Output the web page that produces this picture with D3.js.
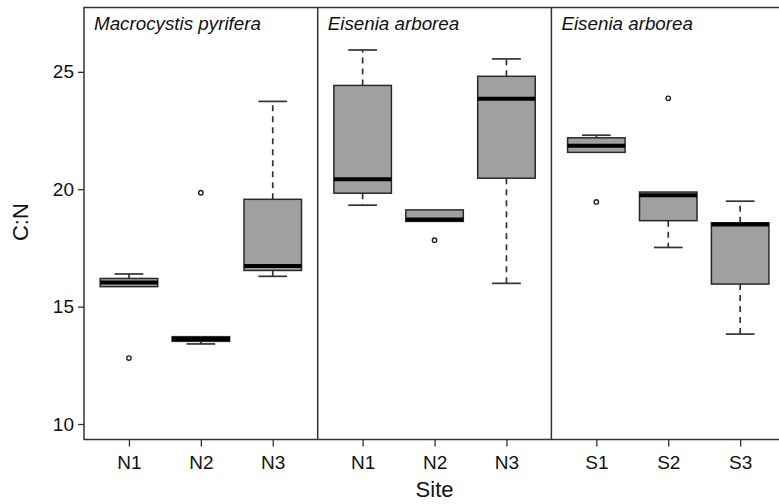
<!DOCTYPE html>
<html>
<head>
<meta charset="utf-8">
<script src="https://cdn.jsdelivr.net/npm/d3@7"></script>
<style>
body{margin:0;background:#fff;}
text{font-family:"Liberation Sans",Arial,Helvetica,sans-serif;fill:#111;}
</style>
</head>
<body>
<div id="root"></div>
<script>
// C:N by site, three panels
var panelTitles=['Macrocystis pyrifera','Eisenia arborea','Eisenia arborea'];
var siteLabels=[['N1','N2','N3'],['N1','N2','N3'],['S1','S2','S3']];
// box stats, one entry per box, panel by panel
var whiskerLow =[15.85,13.41,16.29, 19.32,18.63,15.99, 21.57,17.52,13.83];
var q1         =[15.85,13.52,16.54, 19.83,18.63,20.47, 21.57,18.66,15.96];
var medians    =[16.03,13.62,16.73, 20.43,18.71,23.85, 21.85,19.74,18.50];
var q3         =[16.20,13.72,19.57, 24.42,19.12,24.81, 22.19,19.88,18.57];
var whiskerHigh=[16.39,13.72,23.74, 25.93,19.12,25.55, 22.30,19.88,19.49];
var outliers   =[[12.81],[19.85],[], [],[17.83],[], [19.46],[23.87],[]];
var yTicks=[10,15,20,25];

var margin={t:7.5,l:84};
var W=779,H=504;
var pw=233.7, ph=432;

var svg=d3.select('#root').append('svg')
  .attr('width',W).attr('height',H)
  .append('g').attr('transform','translate('+margin.l+','+margin.t+')');

var yScale=d3.scaleLinear().domain([9.34,27.74]).range([ph,0]);
var panelScale=d3.scaleLinear().domain([0,1]).range([0,pw]);

var boxes=[];
siteLabels.forEach(function(sites,p){
  sites.forEach(function(s,j){
    var i=p*3+j;
    boxes.push({panel:p,site:s,lo:whiskerLow[i],q1:q1[i],med:medians[i],q3:q3[i],hi:whiskerHigh[i],out:outliers[i]});
  });
});

// y axis
var yAxis=d3.axisLeft(yScale).tickValues(yTicks).tickSize(6).tickPadding(4);
var gy=svg.append('g').call(yAxis);
gy.select('.domain').remove();
gy.selectAll('line').attr('stroke','#333').attr('stroke-width',1.3);
gy.selectAll('text').style('font-size','19px').attr('fill','#111');

svg.append('text').attr('transform','translate(-64,'+(yScale(18.6))+') rotate(-90)')
  .attr('text-anchor','middle').attr('dy','0.35em').style('font-size','22px').text('C:N');

panelTitles.forEach(function(title,p){
  var x0=panelScale(p);
  var g=svg.append('g').attr('transform','translate('+x0+',0)');
  var xScale=d3.scalePoint().domain(siteLabels[p]).range([0,pw]).padding(0.625);
  var bw=xScale.step()*0.8;

  var xAxis=d3.axisBottom(xScale).tickSize(7).tickPadding(9);
  var gx=g.append('g').attr('transform','translate(0,'+ph+')').call(xAxis);
  gx.select('.domain').remove();
  gx.selectAll('line').attr('stroke','#333').attr('stroke-width',1.3);
  gx.selectAll('text').style('font-size','19px').attr('fill','#111');

  g.append('text').attr('x',10).attr('y',22.5).style('font-size','18.8px')
    .style('font-style','italic').text(title);

  var bx=g.selectAll('.box').data(boxes.filter(function(d){return d.panel==p})).enter()
    .append('g').attr('class','box');

  // whiskers
  bx.append('line').attr('x1',function(d){return xScale(d.site)}).attr('x2',function(d){return xScale(d.site)})
    .attr('y1',function(d){return yScale(d.q3)}).attr('y2',function(d){return yScale(d.hi)})
    .attr('stroke','#333').attr('stroke-width',1.7).attr('stroke-dasharray','6,5');
  bx.append('line').attr('x1',function(d){return xScale(d.site)}).attr('x2',function(d){return xScale(d.site)})
    .attr('y1',function(d){return yScale(d.q1)}).attr('y2',function(d){return yScale(d.lo)})
    .attr('stroke','#333').attr('stroke-width',1.7).attr('stroke-dasharray','6,5');
  // caps
  bx.filter(function(d){return d.hi>d.q3}).append('line')
    .attr('x1',function(d){return xScale(d.site)-bw/4}).attr('x2',function(d){return xScale(d.site)+bw/4})
    .attr('y1',function(d){return yScale(d.hi)}).attr('y2',function(d){return yScale(d.hi)})
    .attr('stroke','#333').attr('stroke-width',1.7);
  bx.filter(function(d){return d.lo<d.q1}).append('line')
    .attr('x1',function(d){return xScale(d.site)-bw/4}).attr('x2',function(d){return xScale(d.site)+bw/4})
    .attr('y1',function(d){return yScale(d.lo)}).attr('y2',function(d){return yScale(d.lo)})
    .attr('stroke','#333').attr('stroke-width',1.7);
  // box
  bx.append('rect').attr('x',function(d){return xScale(d.site)-bw/2}).attr('width',bw)
    .attr('y',function(d){return yScale(d.q3)})
    .attr('height',function(d){return yScale(d.q1)-yScale(d.q3)})
    .attr('fill','#a0a0a0').attr('stroke','#2a2a2a').attr('stroke-width',1.5);
  // median
  bx.append('line').attr('x1',function(d){return xScale(d.site)-bw/2}).attr('x2',function(d){return xScale(d.site)+bw/2})
    .attr('y1',function(d){return yScale(d.med)}).attr('y2',function(d){return yScale(d.med)})
    .attr('stroke','#000').attr('stroke-width',4);
  // outliers
  bx.selectAll('circle').data(function(d){return d.out.map(function(v){return {site:d.site,v:v}})}).enter()
    .append('circle').attr('cx',function(d){return xScale(d.site)}).attr('cy',function(d){return yScale(d.v)})
    .attr('r',2.2).attr('fill','none').attr('stroke','#222').attr('stroke-width',1.4);
});

// frame and panel dividers
svg.append('rect').attr('x',0).attr('y',0).attr('width',pw*3).attr('height',ph)
  .attr('fill','none').attr('stroke','#333').attr('stroke-width',1.5);
[1,2].forEach(function(p){
  svg.append('line').attr('x1',panelScale(p)).attr('x2',panelScale(p)).attr('y1',0).attr('y2',ph)
    .attr('stroke','#333').attr('stroke-width',1.5);
});

svg.append('text').attr('x',panelScale(1.5)).attr('y',ph+57).attr('text-anchor','middle')
  .style('font-size','22px').text('Site');
</script>
</body>
</html>
